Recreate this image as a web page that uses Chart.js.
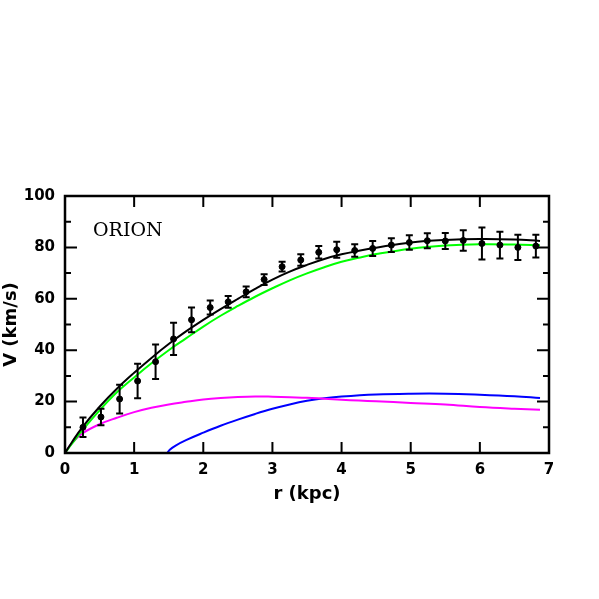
<!DOCTYPE html>
<html>
<head>
<meta charset="utf-8">
<script src="https://cdn.jsdelivr.net/npm/chart.js@4"></script>
<style>
  html, body { margin: 0; padding: 0; background: #fff; }
  #wrap { width: 599px; height: 599px; }
</style>
</head>
<body>
<div id="wrap"><canvas id="rotCurve" width="599" height="599"></canvas></div>
<script>
// observed rotation curve
const rObs = [0.26, 0.52, 0.79, 1.05, 1.31, 1.57, 1.83, 2.10, 2.36, 2.62, 2.88, 3.14, 3.41,
              3.67, 3.93, 4.19, 4.45, 4.72, 4.98, 5.24, 5.50, 5.76, 6.03, 6.29, 6.55, 6.81];
const vObs = [10.0, 14.0, 21.0, 28.0, 35.5, 44.4, 51.8, 56.6, 58.8, 62.7, 67.5, 72.5, 75.1,
              78.1, 79.1, 78.8, 79.6, 80.9, 81.9, 82.6, 82.5, 82.7, 81.5, 80.9, 80.0, 80.5];
const vErr = [3.8, 3.2, 5.6, 6.7, 6.7, 6.3, 4.8, 2.7, 2.3, 2.1, 2.1, 1.9, 2.2,
              2.4, 3.1, 2.4, 2.9, 2.7, 2.8, 2.9, 3.1, 4.0, 6.2, 5.2, 4.9, 4.4];

// model components
const rModel = [0, 0.1, 0.25, 0.5, 0.75, 1.0, 1.25, 1.5, 1.75, 2.0, 2.25, 2.5, 2.75, 3.0,
                3.25, 3.5, 3.75, 4.0, 4.25, 4.5, 5.0, 5.5, 6.0, 6.5, 6.87];
const vTotal = [0, 4.2, 10.0, 18.0, 25.0, 31.2, 37.0, 42.4, 47.3, 51.8, 56.0, 60.0, 63.9, 67.5,
                70.6, 73.2, 75.5, 77.3, 78.7, 79.9, 81.9, 82.9, 83.3, 83.1, 82.5];
const vHalo = [0, 3.6, 8.8, 16.6, 23.6, 29.4, 34.9, 40.0, 44.6, 49.2, 53.4, 57.2, 60.8, 64.1,
               67.2, 69.9, 72.3, 74.4, 76.0, 77.4, 79.5, 80.7, 81.2, 81.1, 80.8];
const vGas = [0, 3.8, 7.6, 11.2, 13.7, 15.9, 17.6, 18.9, 19.9, 20.8, 21.4, 21.8, 22.0, 21.9,
              21.7, 21.5, 21.1, 20.7, 20.4, 20.1, 19.5, 18.9, 17.9, 17.2, 16.8];
const rDisk = [1.48, 1.52, 1.6, 1.75, 2.0, 2.25, 2.5, 2.75, 3.0, 3.25, 3.5, 3.75, 4.0,
               4.5, 5.0, 5.5, 6.0, 6.5, 6.87];
const vDisk = [0, 1.4, 2.9, 5.0, 7.9, 10.6, 13.0, 15.2, 17.2, 18.9, 20.3, 21.3, 22.0,
               22.8, 23.1, 23.1, 22.7, 22.1, 21.4];

const galaxyName = 'ORION';
const xMinorStep = 1;
const yMinorStep = 10;

const pts = (xs, ys) => xs.map((x, i) => ({ x, y: ys[i] }));

const errorBars = {
  id: 'errorBars',
  afterDatasetsDraw(chart) {
    const { ctx, scales: { x, y } } = chart;
    ctx.save();
    ctx.strokeStyle = '#000';
    ctx.lineWidth = 2;
    ctx.beginPath();
    rObs.forEach((r, i) => {
      const px = x.getPixelForValue(r);
      const top = y.getPixelForValue(vObs[i] + vErr[i]);
      const bot = y.getPixelForValue(vObs[i] - vErr[i]);
      ctx.moveTo(px, top); ctx.lineTo(px, bot);
      ctx.moveTo(px - 3.5, top); ctx.lineTo(px + 3.5, top);
      ctx.moveTo(px - 3.5, bot); ctx.lineTo(px + 3.5, bot);
    });
    ctx.stroke();
    ctx.restore();
  }
};

const frameTicks = {
  id: 'frameTicks',
  afterDraw(chart) {
    const { ctx, chartArea: a, scales: { x, y } } = chart;
    ctx.save();
    ctx.strokeStyle = '#000';
    ctx.lineWidth = 2;
    ctx.beginPath();
    for (let v = x.min + xMinorStep; v < x.max; v += xMinorStep) {
      const px = x.getPixelForValue(v);
      ctx.moveTo(px, a.bottom); ctx.lineTo(px, a.bottom - 11);
      ctx.moveTo(px, a.top); ctx.lineTo(px, a.top + 11);
    }
    for (let v = y.min + yMinorStep; v < y.max; v += yMinorStep) {
      const py = y.getPixelForValue(v);
      const len = (v % 20 === 0) ? 12 : 6;
      ctx.moveTo(a.left, py); ctx.lineTo(a.left + len, py);
      ctx.moveTo(a.right, py); ctx.lineTo(a.right - len, py);
    }
    ctx.stroke();
    ctx.lineWidth = 2.5;
    ctx.strokeRect(a.left, a.top, a.right - a.left, a.bottom - a.top);

    ctx.fillStyle = '#000';
    ctx.font = '19px "DejaVu Serif"';
    ctx.textBaseline = 'alphabetic';
    ctx.fillText(galaxyName, a.left + 28, a.top + 40);
    ctx.restore();
  }
};

const tickFont = { family: 'DejaVu Sans', size: 15, weight: 'bold' };
const titleFont = { family: 'DejaVu Sans', size: 18, weight: 'bold' };

new Chart(document.getElementById('rotCurve'), {
  type: 'line',
  data: {
    datasets: [
      { type: 'scatter', data: pts(rObs, vObs), backgroundColor: '#000', borderColor: '#000',
        pointRadius: 3, pointHoverRadius: 3, showLine: false, order: 0 },
      { data: pts(rModel, vTotal), borderColor: '#000', borderWidth: 2, order: 1 },
      { data: pts(rModel, vHalo), borderColor: '#00ff00', borderWidth: 2, order: 2 },
      { data: pts(rModel, vGas), borderColor: '#ff00ff', borderWidth: 2, order: 3 },
      { data: pts(rDisk, vDisk), borderColor: '#0000ff', borderWidth: 2, order: 4 }
    ]
  },
  options: {
    responsive: false,
    animation: false,
    events: [],
    elements: {
      point: { radius: 0 },
      line: { tension: 0.4, fill: false }
    },
    layout: { padding: { left: 0, right: 50, top: 196, bottom: 90 } },
    plugins: { legend: { display: false }, tooltip: { enabled: false } },
    scales: {
      x: {
        type: 'linear', min: 0, max: 7,
        grid: { display: false, drawTicks: false },
        border: { display: false },
        ticks: { stepSize: 1, color: '#000', font: tickFont, padding: 8, maxRotation: 0 },
        title: { display: true, text: 'r (kpc)', color: '#000', font: titleFont, padding: 4 },
        afterFit: s => { s.height = 56; }
      },
      y: {
        type: 'linear', min: 0, max: 100,
        grid: { display: false, drawTicks: false },
        border: { display: false },
        ticks: { stepSize: 20, color: '#000', font: tickFont, padding: 10 },
        title: { display: true, text: 'V (km/s)', color: '#000', font: titleFont, padding: 1 },
        afterFit: s => { s.width = 65; }
      }
    }
  },
  plugins: [errorBars, frameTicks]
});
</script>
</body>
</html>
